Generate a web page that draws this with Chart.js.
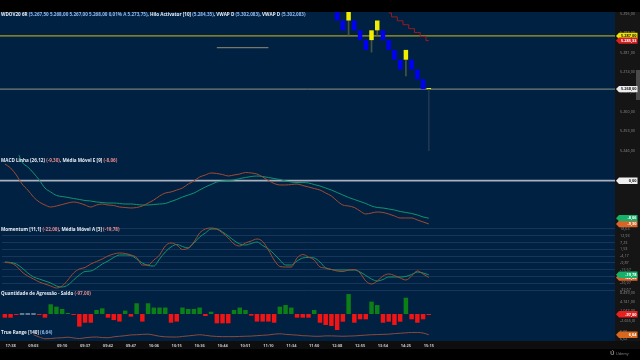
<!DOCTYPE html>
<html>
<head>
<meta charset="utf-8">
<script src="https://cdn.jsdelivr.net/npm/chart.js@4.4.1/dist/chart.umd.min.js"></script>
<style>
  html, body { margin: 0; padding: 0; background: #000; overflow: hidden; }
  canvas { display: block; }
</style>
</head>
<body>
<canvas id="wdoChart" width="640" height="360"></canvas>
<script>
// ---- time axis ----
var N = 107; // slots on the time axis, the right part is empty space
var timeIdx = [1, 5, 10, 14, 18, 22, 26, 30, 34, 38, 42, 46, 50, 54, 58, 62, 66, 70, 74];
var timeTicks = ['17:38', '09:03', '09:10', '09:37', '09:42', '09:47', '10:06', '10:15', '10:36', '10:44',
  '10:51', '11:10', '11:34', '11:50', '12:08', '12:55', '13:54', '14:25', '15:15'];

// ---- price pane (renko bricks) ----
var renkoStart = 58;
var renkoOpen  = [5296, 5292.5, 5292.5, 5292.5, 5289, 5285.5, 5285.5, 5289, 5289, 5285.5, 5282, 5278.5, 5278.5, 5278.5, 5275, 5271.5, 5268];
var renkoClose = [5292.5, 5289, 5296, 5289, 5285.5, 5282, 5289, 5292.5, 5285.5, 5282, 5278.5, 5275, 5282, 5275, 5271.5, 5268, 5268.4];
var renkoWick  = [null, null, 5287.3, null, null, null, 5281.2, 5287.3, null, null, null, null, 5272.7, null, null, null, 5246];
var hiloStart = 67;
var hiloVals = [5295.2, 5293.8, 5292.4, 5291.0, 5289.6, 5288.2, 5286.8, 5285.33];
var drawnStart = 37, drawnEnd = 46, drawnVal = 5282.8;
var priceTicks = [5295, 5288, 5281, 5274, 5267, 5260, 5253, 5246];
var levelYellow = 5287, levelLast = 5268;

// ---- MACD ----
var macdLine = [3.59, 2.73, 1.23, -0.71, -2.00, -3.51, -4.58, -5.23, -5.66, -5.44, -5.12, -4.80, -4.58, -4.80, -5.23,
  -5.66, -5.23, -5.01, -5.23, -5.33, -5.66, -5.76, -5.87, -5.76, -5.44, -4.80, -4.15, -3.29, -2.65, -2.43, -2.00,
  -1.57, -0.71, -0.06, 0.80, 1.23, 1.66, 1.55, 1.33, 1.01, 1.23, 1.44, 1.76, 1.66, 1.44, 0.80, 0.04, -0.60, -0.92,
  -0.92, -0.82, -0.71, -1.03, -1.35, -1.68, -2.00, -2.65, -3.29, -4.37, -5.23, -5.44, -5.76, -6.52, -7.16, -6.95,
  -6.73, -6.84, -7.16, -7.59, -8.02, -8.02, -8.02, -8.45, -8.88, -9.30];
var macdSignal = [null, null, 7.0, 4.0, 2.95, 1.66, 0.15, -1.57, -2.43, -3.18, -3.40, -3.61, -3.83, -4.04, -4.26,
  -4.37, -4.58, -4.69, -4.80, -4.80, -4.90, -5.01, -5.01, -5.12, -5.23, -5.23, -5.12, -5.01, -4.90, -4.47, -4.04,
  -3.51, -3.08, -2.65, -2.00, -1.35, -0.82, -0.28, -0.06, 0.04, 0.15, 0.47, 0.69, 0.90, 1.01, 0.90, 0.69, 0.47, 0.26,
  -0.06, -0.28, -0.39, -0.39, -0.49, -0.82, -1.14, -1.57, -2.00, -2.54, -3.08, -3.61, -4.04, -4.47, -4.90, -5.44,
  -5.76, -5.87, -6.08, -6.30, -6.62, -6.84, -7.05, -7.37, -7.80, -8.06];

// ---- Momentum ----
var momentum = [-9.46, -9.88, -12.40, -17.42, -20.78, -23.29, -25.80, -27.48, -29.16, -30.83, -29.16, -24.13, -18.26,
  -14.91, -13.65, -10.72, -8.63, -6.53, -4.02, -2.34, -1.50, -1.92, -3.18, -5.27, -11.56, -11.56, -7.37, -3.18, 4.36,
  6.88, 5.20, 1.43, 2.69, 7.72, 15.26, 18.61, 19.45, 18.61, 15.26, 11.07, 6.04, 4.36, 6.88, 8.55, 10.23, 8.13, 1.01,
  -7.37, -12.82, -13.23, -13.23, -5.69, -2.76, -4.85, -7.37, -13.23, -14.07, -15.33, -16.59, -17.01, -15.75, -15.33,
  -18.26, -24.97, -27.48, -24.97, -20.78, -19.10, -20.36, -22.45, -24.13, -20.78, -16.59, -19.10, -22.00];
var momentumAvg = [-9.04, -9.46, -10.72, -14.07, -18.26, -21.61, -23.29, -24.97, -26.64, -29.16, -29.99, -28.32,
  -24.13, -19.94, -17.01, -16.59, -14.07, -10.72, -8.21, -5.27, -3.18, -3.18, -3.60, -6.53, -9.88, -11.98, -12.40,
  -6.53, -0.66, 3.53, 5.62, 3.94, 2.69, 6.88, 11.91, 15.26, 18.61, 18.61, 16.10, 12.74, 8.97, 6.04, 5.20, 6.46, 7.72,
  4.78, 1.85, -2.34, -7.37, -11.56, -11.56, -8.21, -5.69, -5.27, -5.69, -9.04, -14.07, -15.33, -15.75, -15.75,
  -15.75, -15.75, -17.42, -20.36, -23.29, -24.97, -23.71, -21.61, -21.61, -21.61, -21.19, -19.52, -17.42, -18.26, -19.78];
var momTicks = [18.63, 12.93, 7.23, 1.53, -4.17, -9.87, -15.57, -21.27, -26.97, -32.67];

// ---- Quantidade de Agressao - Saldo ----
var aggression = [-1450, -1450, -300, 0, 0, 0, -250, -1450, 3850, 2900, 2000, 300, -300, -5000, -3450, -3450, 1600,
  2250, -1450, -2400, -3000, 1350, -1050, 4250, -3000, 4250, 2550, 2550, 2550, -3450, -3000, 2550, 2000, 2000, 2550,
  -800, 900, -3700, -3700, -3700, 1600, 2550, 1600, -650, -3000, -3000, -3000, -3450, 2900, 3550, 2550, -1450, -1450,
  -1450, 1600, -3450, -4350, -4750, -6350, -3050, 7900, -3450, -2100, -2100, 4900, 3550, -3450, -3050, -4350, -3050,
  6450, -2100, -3450, -2100, -97];
var aggTicks = [8439, 4741, 1043, -2655];

// ---- True Range ----
var trStart = 5;
var trueRange = [6.644, 6.632, 6.623, 6.624, 6.627, 6.628, 6.631, 6.627, 6.624, 6.628, 6.631, 6.632, 6.629, 6.628,
  6.633, 6.636, 6.639, 6.643, 6.644, 6.646, 6.647, 6.642, 6.636, 6.633, 6.632, 6.632, 6.635, 6.638, 6.641, 6.644,
  6.641, 6.637, 6.635, 6.634, 6.634, 6.634, 6.635, 6.636, 6.637, 6.639, 6.641, 6.643, 6.647, 6.649, 6.646, 6.644,
  6.642, 6.639, 6.638, 6.636, 6.636, 6.638, 6.638, 6.637, 6.636, 6.637, 6.638, 6.640, 6.642, 6.644, 6.645, 6.646,
  6.647, 6.650, 6.652, 6.654, 6.656, 6.656, 6.653, 6.644];
var trTicks = [6.66, 6.62];

// colours
var NAVY = '#012143';
var YELLOW = '#f2ee00', BLUE = '#0000f5';
var RED_LINE = '#a04a30', GREEN_LINE = '#119470';
var BAR_UP = '#0c7f16', BAR_DN = '#f21414', BAR_ZERO = '#c8ced6';

// helpers
function place(start, vals) {
  var a = new Array(N).fill(null);
  vals.forEach(function (v, k) { a[start + k] = v; });
  return a;
}
function br(v, d) {
  var s = Math.abs(v).toFixed(d).split('.');
  var i = s[0].replace(/\B(?=(\d{3})+(?!\d))/g, '.');
  return (v < 0 ? '-' : '') + i + (d ? ',' + s[1] : '');
}
function last(a) { return a[a.length - 1]; }

var xLabels = new Array(N).fill('');
timeIdx.forEach(function (ix, k) { xLabels[ix] = timeTicks[k]; });

var drawnLine = new Array(N).fill(null);
for (var i = drawnStart; i <= drawnEnd; i++) drawnLine[i] = drawnVal;

var lineBase = { type: 'line', pointRadius: 0, borderWidth: 1, fill: false, cubicInterpolationMode: 'monotone' };

// pane axis builder
function paneAxis(weight, min, max, ticks, digits, grid) {
  return {
    type: 'linear', position: 'right', stack: 'panes', stackWeight: weight,
    min: min, max: max,
    afterBuildTicks: function (s) { s.ticks = ticks.map(function (v) { return { value: v }; }); },
    afterFit: function (s) { s.width = 20; },
    ticks: {
      display: ticks.length > 0, autoSkip: false, color: '#8c8c8c', padding: 5, crossAlign: 'near',
      font: { size: 3.8, family: 'Open Sans' },
      callback: function (v) { return br(v, digits); }
    },
    grid: grid ? { color: '#17365a', lineWidth: 1, drawTicks: false, tickLength: 0 }
               : { display: false, drawTicks: false, tickLength: 0 },
    border: { display: false }
  };
}

// background, level lines, titles and value tags
var panePlugin = {
  id: 'panes',
  beforeDraw: function (chart) {
    var c = chart.ctx, ca = chart.chartArea;
    c.save();
    c.fillStyle = '#000'; c.fillRect(0, 0, chart.width, chart.height);
    c.fillStyle = NAVY; c.fillRect(0, ca.top, ca.right, ca.bottom - ca.top);
    c.fillStyle = '#151515'; c.fillRect(ca.right, ca.top, chart.width - ca.right, ca.bottom - ca.top);
    c.fillStyle = '#0e0e0e'; c.fillRect(0, ca.bottom, chart.width, 8);
    // scroll thumb of the price scale
    c.fillStyle = '#4a4a4a'; c.fillRect(636, 70, 4, 30);
    c.restore();
  },
  beforeDatasetsDraw: function (chart) {
    var c = chart.ctx, ca = chart.chartArea;
    var levels = [
      ['yP', levelYellow, '#a99b1f', 1.4],
      ['yP', levelLast, '#8f9682', 1],
      ['yM', 0, '#a9b1c0', 1.8]
    ];
    c.save();
    levels.forEach(function (l) {
      var y = chart.scales[l[0]].getPixelForValue(l[1]);
      c.strokeStyle = l[2]; c.lineWidth = l[3];
      c.beginPath(); c.moveTo(0, y); c.lineTo(ca.right, y); c.stroke();
    });
    c.restore();
  },
  afterDraw: function (chart) {
    var c = chart.ctx;
    var W = '#e8ecf2', BLU = '#8fb8ea', PNK = '#e88a8a';
    var titles = [
      ['yP', 2.5, [['WDOV20 6R ', W], ['(5.267,50 5.268,00 5.267,00 5.268,00 0,01% A 5.273,75)', BLU],
        [', Hilo Activator [10] ', W], ['(5.284,35)', BLU], [', VWAP D ', W], ['(5.302,083)', BLU],
        [', VWAP D ', W], ['(5.302,083)', BLU]]],
      ['yM', 6, [['MACD Linha (26,12) ', W], ['(' + br(last(macdLine), 2) + ')', PNK],
        [', Média Móvel E [9] ', W], ['(' + br(last(macdSignal), 2) + ')', PNK]]],
      ['yMo', 3, [['Momentum [11,1] ', W], ['(' + br(last(momentum), 2) + ')', PNK],
        [', Média Móvel A [3] ', W], ['(' + br(last(momentumAvg), 2) + ')', PNK]]],
      ['yA', 3, [['Quantidade de Agressão - Saldo ', W], ['(' + br(last(aggression), 2) + ')', PNK]]],
      ['yT', 1.5, [['True Range [140] ', W], ['(' + br(last(trueRange), 2) + ')', BLU]]]
    ];
    c.save();
    c.textBaseline = 'middle';
    c.textAlign = 'left';
    titles.forEach(function (t) {
      var x = 1, y = chart.scales[t[0]].top + t[1];
      t[2].forEach(function (p) {
        c.font = 'bold 4.6px "Open Sans"';
        c.fillStyle = p[1];
        c.fillText(p[0], x, y);
        x += c.measureText(p[0]).width;
      });
    });

    function tag(axis, value, text, bg, fg) {
      var y = chart.scales[axis].getPixelForValue(value);
      c.fillStyle = bg;
      c.beginPath();
      c.moveTo(616, y); c.lineTo(619, y - 3.2); c.lineTo(637.5, y - 3.2);
      c.lineTo(637.5, y + 3.2); c.lineTo(619, y + 3.2); c.closePath(); c.fill();
      c.fillStyle = fg; c.font = 'bold 3.9px "Open Sans"'; c.textAlign = 'right';
      c.fillText(text, 636.5, y + 0.2);
    }
    tag('yP', levelYellow, br(levelYellow, 2), '#ece400', '#222');
    tag('yP', last(hiloVals), br(last(hiloVals), 2), '#d42222', '#fff');
    tag('yP', levelLast, br(levelLast, 2), '#ececec', '#222');
    tag('yM', 0, br(0, 2), '#eeeeee', '#222');
    tag('yM', last(macdLine), br(last(macdLine), 2), '#d8642a', '#fff');
    tag('yM', last(macdSignal), br(last(macdSignal), 2), '#15b06a', '#fff');
    tag('yMo', last(momentum), br(last(momentum), 2), '#d8642a', '#fff');
    tag('yMo', last(momentumAvg), br(last(momentumAvg), 2), '#15b06a', '#fff');
    tag('yA', last(aggression), br(last(aggression), 2), '#e82020', '#fff');
    tag('yT', last(trueRange), br(last(trueRange), 2), '#d8681e', '#fff');

    // watermark
    c.textAlign = 'left';
    c.fillStyle = '#8a8a8a';
    c.font = 'bold 6px "Open Sans"';
    c.fillText('Ú', 610, 353.5);
    c.font = '3.8px "Open Sans"';
    c.fillText('Udemy', 616, 354);
    c.restore();
  }
};

var ctx = document.getElementById('wdoChart').getContext('2d');

var wdoChart = new Chart(ctx, {
  data: {
    labels: xLabels,
    datasets: [
      // price pane
      {
        type: 'bar', label: 'Pavio', yAxisID: 'yP', grouped: false, order: 3,
        data: place(renkoStart, renkoWick.map(function (w, k) {
          return w === null ? null : [w, Math.min(renkoOpen[k], renkoClose[k])];
        })),
        backgroundColor: function (c) { return c.dataIndex === renkoStart + renkoWick.length - 1 ? '#1f3552' : '#48543f'; },
        barThickness: 1
      },
      {
        type: 'bar', label: 'Renko', yAxisID: 'yP', grouped: false, order: 2,
        data: place(renkoStart, renkoOpen.map(function (o, k) { return [o, renkoClose[k]]; })),
        backgroundColor: place(renkoStart, renkoOpen.map(function (o, k) { return renkoClose[k] > o ? YELLOW : BLUE; })),
        barPercentage: 0.78, categoryPercentage: 1
      },
      Object.assign({}, lineBase, {
        label: 'Hilo', yAxisID: 'yP', data: place(hiloStart, hiloVals),
        borderColor: '#9a1c1c', stepped: 'middle', cubicInterpolationMode: 'default'
      }),
      Object.assign({}, lineBase, {
        label: 'Linha', yAxisID: 'yP', data: drawnLine, borderColor: '#77776a', borderWidth: 1.2
      }),
      // MACD
      Object.assign({}, lineBase, { label: 'MACD', yAxisID: 'yM', data: macdLine, borderColor: RED_LINE }),
      Object.assign({}, lineBase, { label: 'Sinal', yAxisID: 'yM', data: macdSignal, borderColor: GREEN_LINE }),
      // Momentum
      Object.assign({}, lineBase, { label: 'Momentum', yAxisID: 'yMo', data: momentum, borderColor: RED_LINE }),
      Object.assign({}, lineBase, { label: 'Media', yAxisID: 'yMo', data: momentumAvg, borderColor: GREEN_LINE }),
      // aggression balance
      {
        type: 'bar', label: 'Saldo', yAxisID: 'yA', grouped: false,
        data: aggression,
        backgroundColor: aggression.map(function (v) { return v > 0 ? BAR_UP : (v < 0 ? BAR_DN : BAR_ZERO); }),
        barPercentage: 0.78, categoryPercentage: 1, minBarLength: 1
      },
      // true range
      Object.assign({}, lineBase, { label: 'True Range', yAxisID: 'yT', data: place(trStart, trueRange), borderColor: '#8c4a38' })
    ]
  },
  options: {
    responsive: false,
    animation: false,
    devicePixelRatio: 1,
    layout: { padding: { top: 12, left: 2, right: 5, bottom: 11 } },
    plugins: { legend: { display: false }, tooltip: { enabled: false } },
    scales: {
      x: {
        type: 'category', offset: true,
        grid: { display: false, drawTicks: false, tickLength: 0 },
        border: { display: false },
        afterFit: function (s) { s.height = 8; },
        ticks: {
          autoSkip: false, maxRotation: 0, padding: 2, color: '#c4c4c4',
          font: { size: 4, family: 'Open Sans', weight: 'bold' },
          callback: function (v, i) { return xLabels[i]; }
        }
      },
      yP: paneAxis(143, 5244.46, 5295.54, priceTicks, 2, false),
      yM: paneAxis(72, -9.96, 5.53, [], 2, false),
      yMo: paneAxis(64, -33.35, 20.29, momTicks, 2, true),
      yA: paneAxis(40, -6732, 9108, aggTicks, 2, false),
      yT: paneAxis(10, 6.611, 6.6637, trTicks, 2, false)
    }
  },
  plugins: [panePlugin]
});
</script>
</body>
</html>
